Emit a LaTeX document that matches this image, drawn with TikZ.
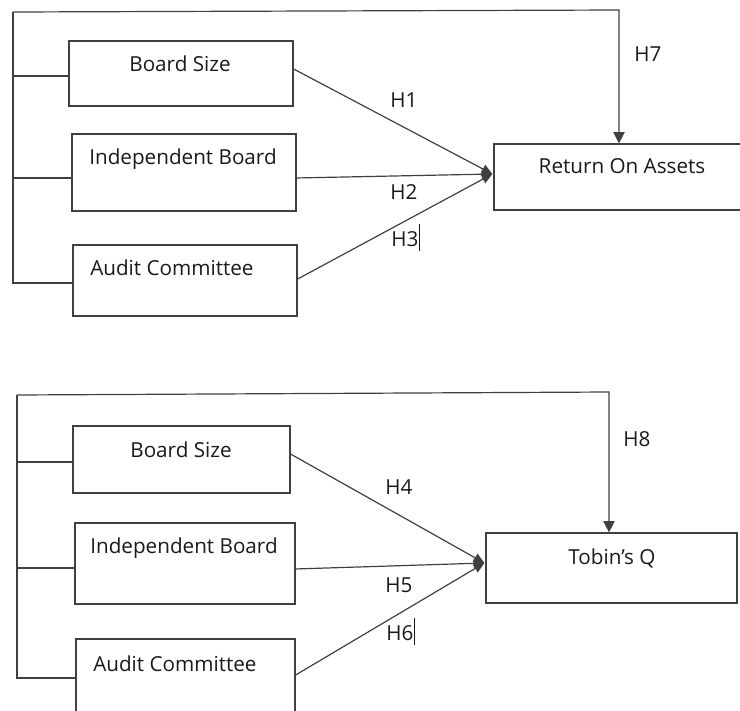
\documentclass[tikz,border=0pt]{standalone}
\usepackage{fontspec}
\setmainfont{Open Sans}
\usetikzlibrary{arrows.meta}
\begin{document}
\begin{tikzpicture}[x=0.75pt,y=-0.75pt,
  font=\fontsize{15.5}{18}\selectfont,
  box/.style={draw=black!75,line width=0.9pt,rectangle,inner sep=0pt},
  txt/.style={anchor=base,inner sep=0pt,text=black!90},
  link/.style={draw=black!75,line width=0.9pt},
  arr/.style={draw=black!75,line width=0.9pt,-{Triangle[length=8pt,width=7pt]}},
  varr/.style={draw=black!75,line width=0.9pt,-{Triangle[length=8.5pt,width=8.5pt]}}]
\useasboundingbox (0,0) rectangle (740,711);
\clip (0,0) rectangle (740,711);
% ---------------- top model ----------------
\node[box,minimum width=168pt,minimum height=48.75pt] (bs1) at (181,73.5) {};
\node[box,minimum width=168pt,minimum height=57.75pt] (ib1) at (184,172.5) {};
\node[box,minimum width=168pt,minimum height=53.25pt] (ac1) at (185,280.5) {};
\node[box,minimum width=207pt,minimum height=49.5pt] (roa) at (632,177) {};
\node[txt] (tbs1) at (180,71) {Board Size};
\node[txt] (tib1) at (183,164) {Independent Board};
\node[txt,anchor=base west] (tac1) at (90,275) {Audit Committee};
\node[txt] (troa) at (622,173) {Return On Assets};
\coordinate (tl1) at (13,12);
\coordinate (tr1) at (619,10);
\draw[link] ([yshift=-1.9pt]bs1.west) -- ([yshift=-1.9pt]bs1.west -| tl1);
\draw[link] ([yshift=-4.1pt]ib1.west) -- ([yshift=-4.1pt]ib1.west -| tl1);
\draw[link] ([yshift=-1.9pt]ac1.west) -- ([yshift=-1.9pt]ac1.west -| tl1) -- (tl1);
\draw[varr] (tl1) -- (tr1) -- (tr1 |- roa.north);
\coordinate (tip1) at ([yshift=2.25pt,xshift=-0.75pt]roa.west);
\draw[arr] ([yshift=3.4pt]bs1.east) -- (tip1);
\draw[arr] ([yshift=-4.1pt]ib1.east) -- (tip1);
\draw[arr] ([yshift=1.1pt]ac1.east) -- (tip1);
\node[txt] (h1) at (404,107) {H1};
\node[txt] (h2) at (404,199) {H2};
\node[txt,anchor=base west] (h3) at (391,246) {H3\hspace{0.5pt}\rule[-3.8pt]{0.6pt}{20pt}};
\node[txt] (h7) at (648,61) {H7};
% ---------------- bottom model ----------------
\node[box,minimum width=162.75pt,minimum height=50.25pt] (bs2) at (181.5,459.5) {};
\node[box,minimum width=165pt,minimum height=60.75pt] (ib2) at (185,563.5) {};
\node[box,minimum width=164.25pt,minimum height=68.25pt] (ac2) at (185.5,684.5) {};
\node[box,minimum width=188.25pt,minimum height=52.5pt] (tq) at (611.5,568) {};
\node[txt] (tbs2) at (181,457) {Board Size};
\node[txt] (tib2) at (184,553) {Independent Board};
\node[txt,anchor=base west] (tac2) at (93,671) {Audit Committee};
\node[txt] (ttq) at (612,564) {Tobin’s Q};
\coordinate (tl2) at (17,395);
\coordinate (tr2) at (609,392);
\draw[link] ([yshift=-1.9pt]bs2.west) -- ([yshift=-1.9pt]bs2.west -| tl2);
\draw[link] ([yshift=-3.4pt]ib2.west) -- ([yshift=-3.4pt]ib2.west -| tl2);
\draw[link] ([yshift=4.9pt]ac2.west) -- ([yshift=4.9pt]ac2.west -| tl2) -- (tl2);
\draw[varr] (tl2) -- (tr2) -- (tr2 |- tq.north);
\coordinate (tip2) at ([yshift=3.75pt,xshift=-0.75pt]tq.west);
\draw[arr] ([yshift=4.1pt]bs2.east) -- (tip2);
\draw[arr] ([yshift=-4.1pt]ib2.east) -- (tip2);
\draw[arr] ([yshift=7.1pt]ac2.east) -- (tip2);
\node[txt] (h4) at (399,494) {H4};
\node[txt] (h5) at (399,592) {H5};
\node[txt,anchor=base west] (h6) at (386,640) {H6\hspace{0.5pt}\rule[-3.8pt]{0.6pt}{20pt}};
\node[txt] (h8) at (637,446) {H8};
\end{tikzpicture}
\end{document}
